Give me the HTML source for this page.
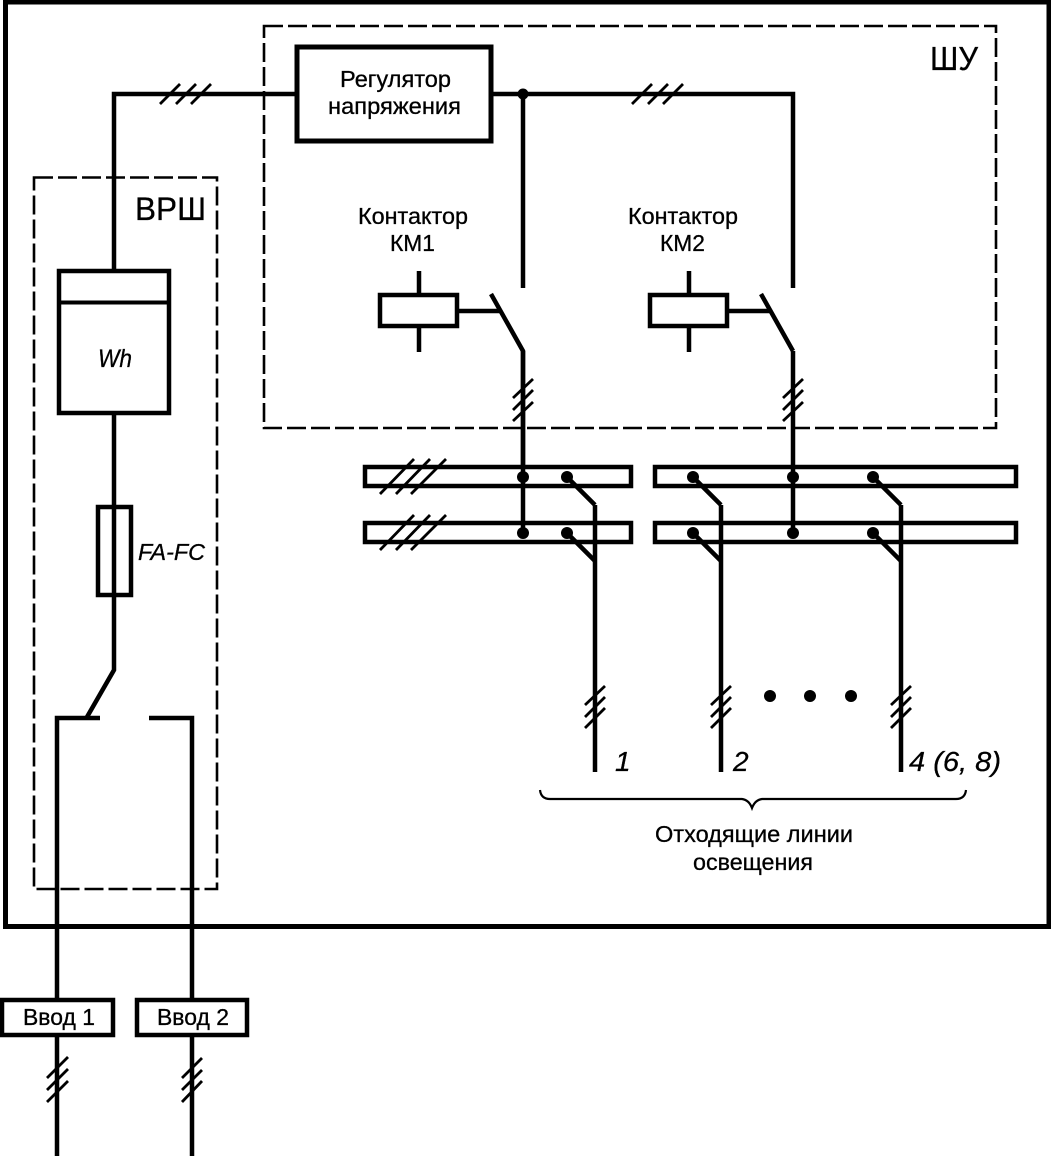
<!DOCTYPE html>
<html><head><meta charset="utf-8"><style>
html,body{margin:0;padding:0;background:#fff}
svg{display:block}
text{font-family:"Liberation Sans",sans-serif;fill:#000;stroke:#000;stroke-width:.3px}
.i{font-style:italic}
</style></head><body>
<svg width="1051" height="1156" viewBox="0 0 1051 1156" xmlns="http://www.w3.org/2000/svg" fill="none" stroke="#000" stroke-linejoin="miter">
<rect x="5.5" y="2" width="1043.5" height="924.5" stroke-width="5"/>
<rect x="264" y="26" width="732" height="402" stroke-width="2.6" stroke-dasharray="19 5"/>
<rect x="34" y="177.5" width="183" height="711.5" stroke-width="2.6" stroke-dasharray="19 5"/>
<g stroke-width="4.5">
<path d="M114 270V94H297"/>
<rect x="297" y="47" width="194" height="94" stroke-width="5"/>
<path d="M491 94H793V288M523 94V288"/>
<path d="M114 414V670L87 717"/>
<path d="M100 718H57V1000M149 718H192V1000"/>
<path d="M57 1037V1156M192 1037V1156"/>
<path d="M523 351V533M793 351V533"/>
<path d="M491 294L523 351V465M761 294L793 351"/>
<path d="M457 311H501M727 311H771"/>
<path d="M419 271V295M419 326V352M689 271V295M689 326V352"/>
<path d="M595 505V772M721 505V772M901 505V772"/>
<path d="M567 477L595 505M567 533L595 561M693 477L721 505M693 533L721 561M873 477L901 505M873 533L901 561"/>
<rect x="59" y="271" width="110" height="142"/>
<path d="M59 302.5H169" stroke-width="4"/>
<rect x="98" y="507" width="33" height="88" stroke-width="4.5"/>
<rect x="2" y="1000" width="111" height="35"/>
<rect x="137" y="1000" width="110" height="35"/>
<rect x="380" y="295" width="77" height="31" stroke-width="4.5"/>
<rect x="650" y="295" width="77" height="31" stroke-width="4.5"/>
<rect x="365" y="467" width="266" height="19" stroke-width="4.5"/>
<rect x="365" y="523" width="266" height="19" stroke-width="4.5"/>
<rect x="655" y="467" width="361" height="19" stroke-width="4.5"/>
<rect x="655" y="523" width="361" height="19" stroke-width="4.5"/>
</g>
<g stroke-width="2.8">
<path d="M160 104L180 84M176 104L196 84M191 104L211 84"/>
<path d="M632 104L652 84M648 104L668 84M663 104L683 84"/>
<path d="M380 494L414 459M396 494L430 459M411 494L446 459"/>
<path d="M380 550L414 515M396 550L430 515M411 550L446 515"/>
<path d="M513 398L533 379M513 410L533 390M513 421L533 402"/>
<path d="M783 398L803 379M783 410L803 390M783 421L803 402"/>
<path d="M585 705L605 686M585 717L605 697M585 728L605 708"/>
<path d="M711 705L731 686M711 717L731 697M711 728L731 708"/>
<path d="M891 705L911 686M891 717L911 697M891 728L911 708"/>
<path d="M47 1078L68 1057M47 1090L68 1069M47 1102L68 1081"/>
<path d="M182 1078L202 1058M182 1090L202 1070M182 1102L202 1081"/>
</g>
<path d="M540 790Q541 799 550 799H742Q749 800 752 808Q755 800 762 799H956Q965 799 966 790" stroke-width="2.2"/>
<g fill="#000" stroke="none">
<circle cx="523" cy="94" r="5.5"/>
<circle cx="523" cy="477" r="6"/><circle cx="567" cy="477" r="6"/>
<circle cx="523" cy="533" r="6"/><circle cx="567" cy="533" r="6"/>
<circle cx="693" cy="477" r="6"/><circle cx="793" cy="477" r="6"/><circle cx="873" cy="477" r="6"/>
<circle cx="693" cy="533" r="6"/><circle cx="793" cy="533" r="6"/><circle cx="873" cy="533" r="6"/>
<circle cx="770" cy="696" r="6"/><circle cx="810" cy="696" r="6"/><circle cx="851" cy="696" r="6"/>
<text x="340" y="87" font-size="23" textLength="111" lengthAdjust="spacingAndGlyphs">Регулятор</text>
<text x="328" y="114" font-size="23" textLength="133" lengthAdjust="spacingAndGlyphs">напряжения</text>
<text x="930" y="70" font-size="33" textLength="48" lengthAdjust="spacingAndGlyphs">ШУ</text>
<text x="135" y="220" font-size="32" textLength="71" lengthAdjust="spacingAndGlyphs">ВРШ</text>
<text x="358" y="224" font-size="23" textLength="110" lengthAdjust="spacingAndGlyphs">Контактор</text>
<text x="390" y="251" font-size="23" textLength="45" lengthAdjust="spacingAndGlyphs">КМ1</text>
<text x="628" y="224" font-size="23" textLength="110" lengthAdjust="spacingAndGlyphs">Контактор</text>
<text x="660" y="251" font-size="23" textLength="45" lengthAdjust="spacingAndGlyphs">КМ2</text>
<text x="98" y="367" font-size="25" class="i" textLength="34" lengthAdjust="spacingAndGlyphs">Wh</text>
<text x="138" y="560" font-size="23" class="i" textLength="67" lengthAdjust="spacingAndGlyphs">FA-FC</text>
<text x="23" y="1025" font-size="23" textLength="72" lengthAdjust="spacingAndGlyphs">Ввод 1</text>
<text x="157" y="1025" font-size="23" textLength="72" lengthAdjust="spacingAndGlyphs">Ввод 2</text>
<text x="615" y="771" font-size="28" class="i">1</text>
<text x="733" y="771" font-size="28" class="i">2</text>
<text x="909" y="771" font-size="28" class="i" textLength="92" lengthAdjust="spacingAndGlyphs">4 (6, 8)</text>
<text x="655" y="842" font-size="23" textLength="198" lengthAdjust="spacingAndGlyphs">Отходящие линии</text>
<text x="693" y="870" font-size="23" textLength="120" lengthAdjust="spacingAndGlyphs">освещения</text>
</g>
</svg>
</body></html>
